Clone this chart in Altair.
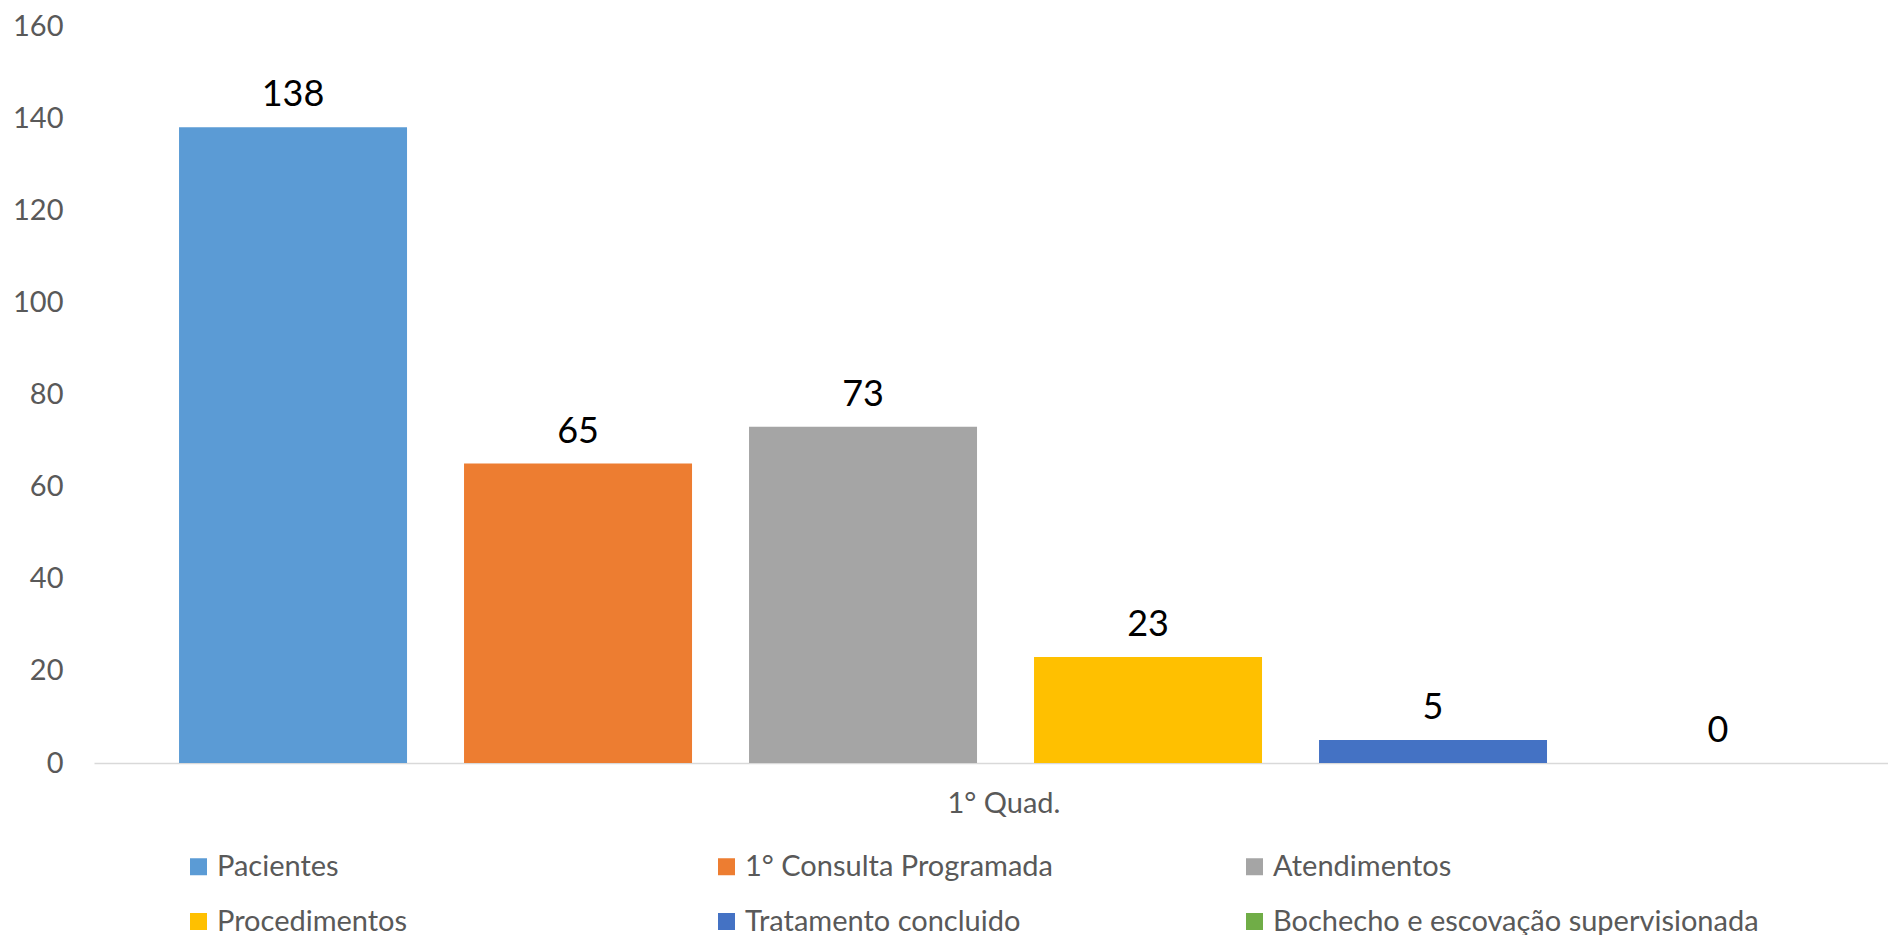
import altair as alt
import pandas as pd

series = ["Pacientes", "1° Consulta Programada", "Atendimentos",
          "Procedimentos", "Tratamento concluido", "Bochecho e escovação supervisionada"]
values = [138, 65, 73, 23, 5, 0]
colors = ["#5B9BD5", "#ED7D31", "#A5A5A5", "#FFC000", "#4472C4", "#70AD47"]
category = "1° Quad."
y_ticks = [0, 20, 40, 60, 80, 100, 120, 140, 160]

df = pd.DataFrame({"cat": [category] * len(series), "serie": series, "valor": values})

FONT = "Lato"

x_enc = alt.X("cat:N", title=None,
              scale=alt.Scale(paddingInner=0, paddingOuter=0),
              axis=alt.Axis(labelAngle=0, labelFontSize=29, labelColor="#595959",
                            labelFont=FONT, labelPadding=26, labelOffset=13,
                            ticks=False, domainColor="#D9D9D9", domainWidth=1.5))
xoff_enc = alt.XOffset("serie:N", sort=series,
                       scale=alt.Scale(domain=series, paddingInner=0.2,
                                       paddingOuter=0.2474, align=0.603))
y_enc = alt.Y("valor:Q", title=None,
              scale=alt.Scale(domain=[0, 160], nice=False),
              axis=alt.Axis(values=y_ticks, grid=False, domain=False, ticks=False,
                            labelFontSize=29, labelColor="#595959", labelFont=FONT,
                            labelPadding=31))

bars = alt.Chart(df).mark_bar().encode(
    x=x_enc,
    xOffset=xoff_enc,
    y=y_enc,
    color=alt.Color("serie:N", sort=series,
                    scale=alt.Scale(domain=series, range=colors),
                    legend=alt.Legend(title=None, orient="none", legendX=90, legendY=826,
                                      direction="horizontal", columns=3, gridAlign="all",
                                      columnPadding=9, rowPadding=25, padding=0,
                                      symbolType="square", symbolSize=289,
                                      symbolStrokeWidth=0, labelOffset=4,
                                      labelFontSize=29, labelFont=FONT,
                                      labelColor="#595959", labelLimit=800)),
)

labels = alt.Chart(df).mark_text(
    baseline="alphabetic", dy=-21, fontSize=36, font=FONT, color="#000000"
).encode(
    x=alt.X("cat:N"),
    xOffset=alt.XOffset("serie:N", sort=series),
    y=alt.Y("valor:Q"),
    text=alt.Text("valor:Q"),
)

chart = alt.layer(bars, labels).properties(
    width=1794, height=737,
    autosize=alt.AutoSizeParams(type="none"),
    padding={"left": 86, "top": 18, "right": 0, "bottom": 172},
).configure_view(stroke=None)

chart.save("out.html", embed_options={"renderer": "svg", "actions": False})
